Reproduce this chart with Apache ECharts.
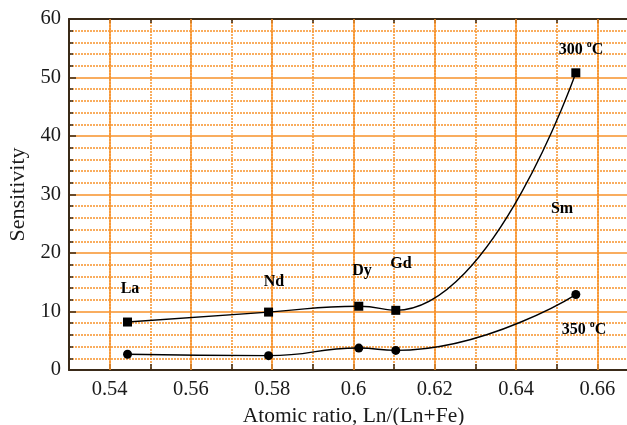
<!DOCTYPE html>
<html>
<head>
<meta charset="utf-8">
<script src="https://cdn.jsdelivr.net/npm/echarts@6/dist/echarts.min.js"></script>
<style>
  html, body { margin: 0; padding: 0; background: #fff; }
  #chart { width: 627px; height: 425px; }
</style>
</head>
<body>
<div id="chart"></div>
<script>
// Sensitivity versus Ln/(Ln+Fe) atomic ratio at two operating temperatures
const ratio300 = [0.5444, 0.5791, 0.6013, 0.6104, 0.6547];
const sens300  = [8.2, 9.9, 10.9, 10.2, 50.8];
const ratio350 = [0.5444, 0.5791, 0.6013, 0.6104, 0.6547];
const sens350  = [2.7, 2.45, 3.75, 3.35, 12.9];
const xMajorTicks = [0.54, 0.56, 0.58, 0.60, 0.62, 0.64, 0.66];
const yTicks = [0, 10, 20, 30, 40, 50, 60];

const ORANGE = '#f7922a';
const AXIS = '#3a2a18';
const FONT = 'Liberation Serif';

const pair = (xs, ys) => xs.map((x, i) => [x, ys[i]]);

const chart = echarts.init(document.getElementById('chart'));
chart.setOption({
  animation: false,
  backgroundColor: '#fff',
  grid: { left: 69, right: -11, top: 19, bottom: 55, containLabel: false, outerBoundsMode: 'none' },
  xAxis: [
    {
      type: 'value', position: 'bottom',
      min: 0.53, max: 0.67, interval: 0.01,
      axisLine: { show: true, lineStyle: { color: AXIS, width: 2 } },
      axisTick: { show: true, inside: true, length: 6, lineStyle: { color: AXIS, width: 1.5 } },
      axisLabel: {
        color: '#1a1a1a', fontFamily: FONT, fontSize: 20.5, margin: 9,
        showMinLabel: false, showMaxLabel: false,
        formatter: v => {
          const k = Math.round(v * 100);
          return k % 2 === 0 ? String(+(k / 100).toFixed(2)) : '';
        }
      },
      splitLine: { show: true, lineStyle: { color: ORANGE, width: 1.5, type: [2, 1] } },
      name: 'Atomic ratio, Ln/(Ln+Fe)', nameLocation: 'middle', nameGap: 34,
      nameTextStyle: { color: '#1a1a1a', fontFamily: FONT, fontSize: 21.5 }
    },
    {
      type: 'value', position: 'top',
      min: 0.53, max: 0.67, interval: 0.01,
      axisLine: { show: true, lineStyle: { color: AXIS, width: 2 } },
      axisTick: { show: true, inside: true, length: 4, lineStyle: { color: AXIS, width: 1.5 } },
      axisLabel: { show: false },
      splitLine: { show: false }
    }
  ],
  yAxis: {
    type: 'value', min: yTicks[0], max: yTicks[yTicks.length - 1], interval: 10,
    axisLine: { show: true, lineStyle: { color: AXIS, width: 2 } },
    axisTick: { show: true, inside: true, length: 7, lineStyle: { color: AXIS, width: 1.5 } },
    minorTick: { show: true, splitNumber: 5, length: 4, lineStyle: { color: AXIS, width: 1.5 } },
    axisLabel: { color: '#1a1a1a', fontFamily: FONT, fontSize: 20.5, margin: 8 },
    splitLine: { show: true, lineStyle: { color: ORANGE, width: 1.5 } },
    minorSplitLine: { show: true, lineStyle: { color: ORANGE, width: 1.5, type: [2, 1] } },
    name: 'Sensitivity', nameLocation: 'middle', nameGap: 38,
    nameTextStyle: { color: '#1a1a1a', fontFamily: FONT, fontSize: 22 }
  },
  series: [
    {
      // solid vertical grid lines at the labelled ratios
      name: 'majors', type: 'line', data: [], z: 1, silent: true,
      markLine: {
        silent: true, symbol: 'none', label: { show: false },
        lineStyle: { color: ORANGE, width: 1.5, type: 'solid' },
        data: xMajorTicks.map(v => ({ xAxis: v }))
      }
    },
    {
      name: '300 °C', type: 'line', z: 5,
      data: pair(ratio300, sens300), smooth: 0.5,
      symbol: 'rect', symbolSize: 9,
      itemStyle: { color: '#000' },
      lineStyle: { color: '#000', width: 1.4 }
    },
    {
      name: '350 °C', type: 'line', z: 5,
      data: pair(ratio350, sens350), smooth: 0.5,
      symbol: 'circle', symbolSize: 9,
      itemStyle: { color: '#000' },
      lineStyle: { color: '#000', width: 1.4 }
    }
  ],
  graphic: [
    ['La', 130, 289], ['Nd', 274, 282], ['Dy', 362, 271], ['Gd', 401, 264], ['Sm', 562, 209]
  ].map(([t, x, y]) => ({
    type: 'text', x, y, z: 10,
    style: { text: t, fill: '#000', font: 'bold 16px "Liberation Serif"', align: 'center', verticalAlign: 'middle' }
  })).concat([
    ['300', 581, 50], ['350', 584, 330]
  ].map(([t, x, y]) => ({
    type: 'text', x, y, z: 10,
    style: {
      text: t + ' {s|o}C', fill: '#000', font: 'bold 16px "Liberation Serif"',
      align: 'center', verticalAlign: 'middle',
      rich: { s: { fontSize: 10, fontWeight: 'bold', fontFamily: FONT, verticalAlign: 'bottom', lineHeight: 10, padding: [0, 0, 9, 0] } }
    }
  })))
});
</script>
</body>
</html>
